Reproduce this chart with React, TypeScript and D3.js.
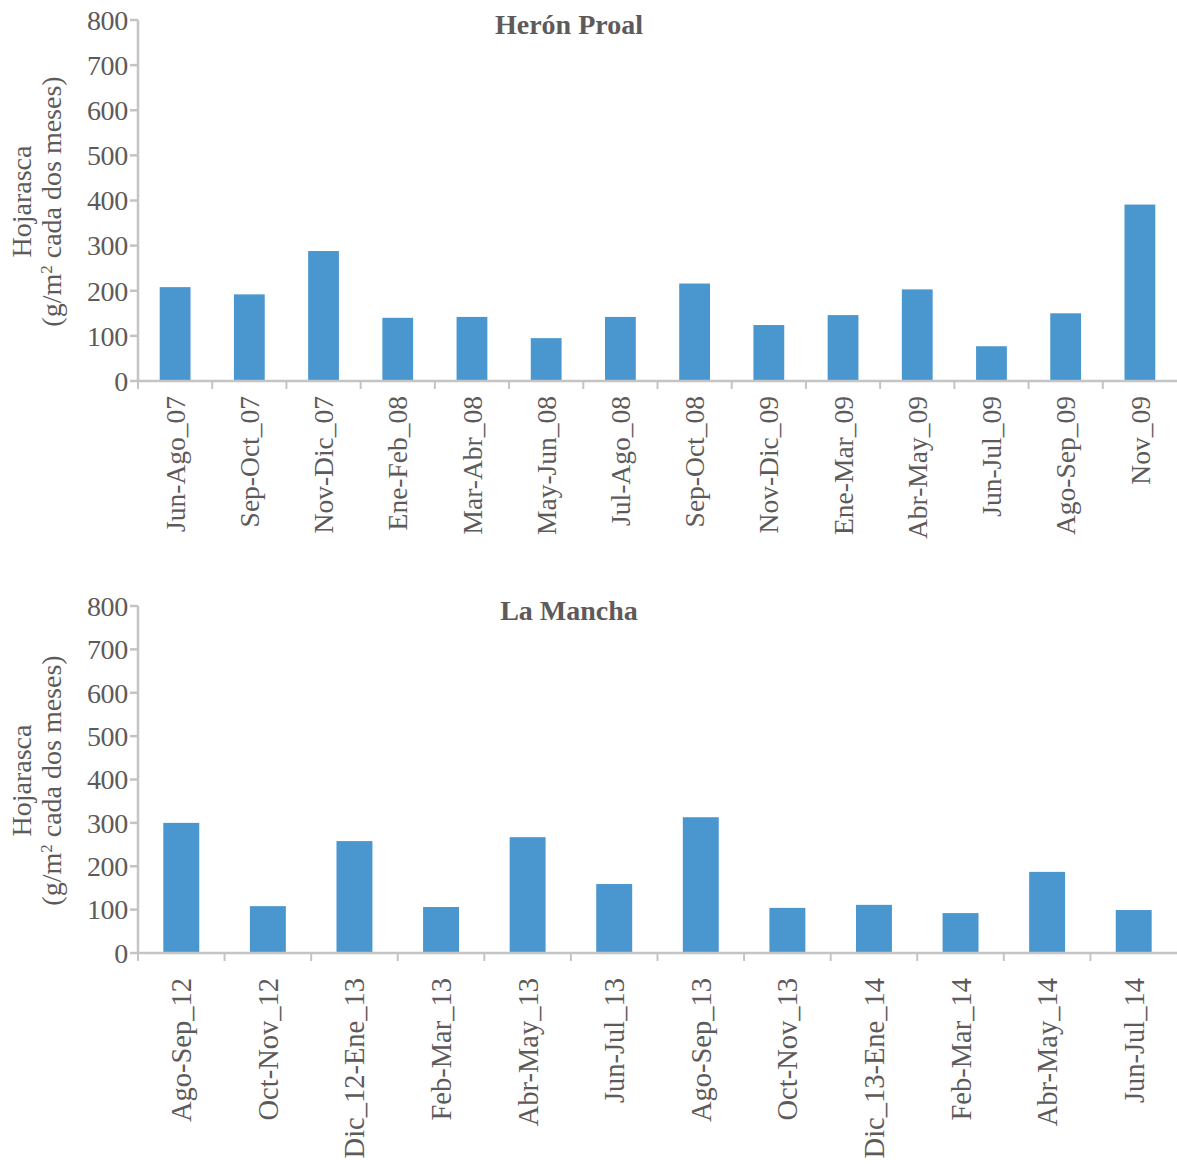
import React from "react";
import * as d3 from "d3";

const heronCategories = [
  "Jun-Ago_07", "Sep-Oct_07", "Nov-Dic_07", "Ene-Feb_08", "Mar-Abr_08", "May-Jun_08",
  "Jul-Ago_08", "Sep-Oct_08", "Nov-Dic_09", "Ene-Mar_09", "Abr-May_09", "Jun-Jul_09",
  "Ago-Sep_09", "Nov_09",
];
const heronValues = [208, 192, 288, 140, 142, 95, 142, 216, 124, 146, 203, 77, 150, 391];

const manchaCategories = [
  "Ago-Sep_12", "Oct-Nov_12", "Dic_12-Ene_13", "Feb-Mar_13", "Abr-May_13", "Jun-Jul_13",
  "Ago-Sep_13", "Oct-Nov_13", "Dic_13-Ene_14", "Feb-Mar_14", "Abr-May_14", "Jun-Jul_14",
];
const manchaValues = [300, 108, 258, 106, 267, 159, 313, 104, 111, 92, 187, 99];

const yTicks = [0, 100, 200, 300, 400, 500, 600, 700, 800];
const yLabelLine1 = "Hojarasca";
const titles = ["Herón Proal", "La Mancha"];

const FONT = "'Liberation Serif', 'Times New Roman', serif";
const TEXT = "#5e5a5a";
const AXIS = "#c4c4c4";
const BAR = "#4a96ce";

type PanelProps = {
  title: string;
  categories: string[];
  values: number[];
  top: number;
  bottom: number;
  labelGap: number;
  labelSize: number;
};

function Panel({ title, categories, values, top, bottom, labelGap, labelSize }: PanelProps) {
  const left = 138;
  const right = 1177;
  const x = d3.scaleBand<string>().domain(categories).range([left, right]).paddingInner(0).paddingOuter(0);
  const y = d3.scaleLinear().domain([0, 800]).range([bottom, top]);
  const bw = x.bandwidth();
  const barW = bw * 0.415;
  const midY = (top + bottom) / 2 + 1;
  return (
    <g>
      <text x={569} y={top + 14} textAnchor="middle" fontFamily={FONT} fontSize={28} fontWeight="bold" fill={TEXT}>
        {title}
      </text>
      {categories.map((c, i) => (
        <rect key={c} x={(x(c) as number) + (bw - barW) / 2} y={y(values[i])} width={barW}
          height={y(0) - y(values[i])} fill={BAR} />
      ))}
      <line x1={left} x2={left} y1={top} y2={bottom} stroke={AXIS} strokeWidth={2.5} />
      {yTicks.map((t) => (
        <g key={t}>
          <line x1={left - 8} x2={left} y1={y(t)} y2={y(t)} stroke={AXIS} strokeWidth={2.5} />
          <text x={left - 10} y={y(t)} dy="0.35em" textAnchor="end" fontFamily={FONT} fontSize={28}
            fill={TEXT} letterSpacing={-0.3}>
            {t}
          </text>
        </g>
      ))}
      <line x1={left} x2={right} y1={bottom} y2={bottom} stroke={AXIS} strokeWidth={2.5} />
      {categories.map((c) => (
        <line key={"t" + c} x1={x(c) as number} x2={x(c) as number} y1={bottom} y2={bottom + 8}
          stroke={AXIS} strokeWidth={2} />
      ))}
      {categories.map((c) => {
        const cx = (x(c) as number) + bw / 2;
        const ty = bottom + labelGap;
        return (
          <text key={"l" + c} transform={`translate(${cx},${ty}) rotate(-90)`} dy="0.35em" textAnchor="end"
            fontFamily={FONT} fontSize={labelSize} fill={TEXT}>
            {c}
          </text>
        );
      })}
      <text transform={`translate(${31},${midY}) rotate(-90)`} textAnchor="middle" fontFamily={FONT}
        fontSize={28} fill={TEXT}>
        {yLabelLine1}
      </text>
      <text transform={`translate(${61},${midY}) rotate(-90)`} textAnchor="middle" fontFamily={FONT}
        fontSize={28} fill={TEXT}>
        (g/m<tspan baselineShift="super" fontSize={17}>2</tspan> cada dos meses)
      </text>
    </g>
  );
}

export default function App() {
  return (
    <svg width={1177} height={1164} style={{ position: "absolute", left: 0, top: 0, background: "#fff" }}>
      <rect width={1177} height={1164} fill="#fff" />
      <Panel title={titles[0]} categories={heronCategories} values={heronValues} top={20} bottom={381}
        labelGap={15} labelSize={27.5} />
      <Panel title={titles[1]} categories={manchaCategories} values={manchaValues} top={606} bottom={953}
        labelGap={25} labelSize={28.5} />
    </svg>
  );
}
